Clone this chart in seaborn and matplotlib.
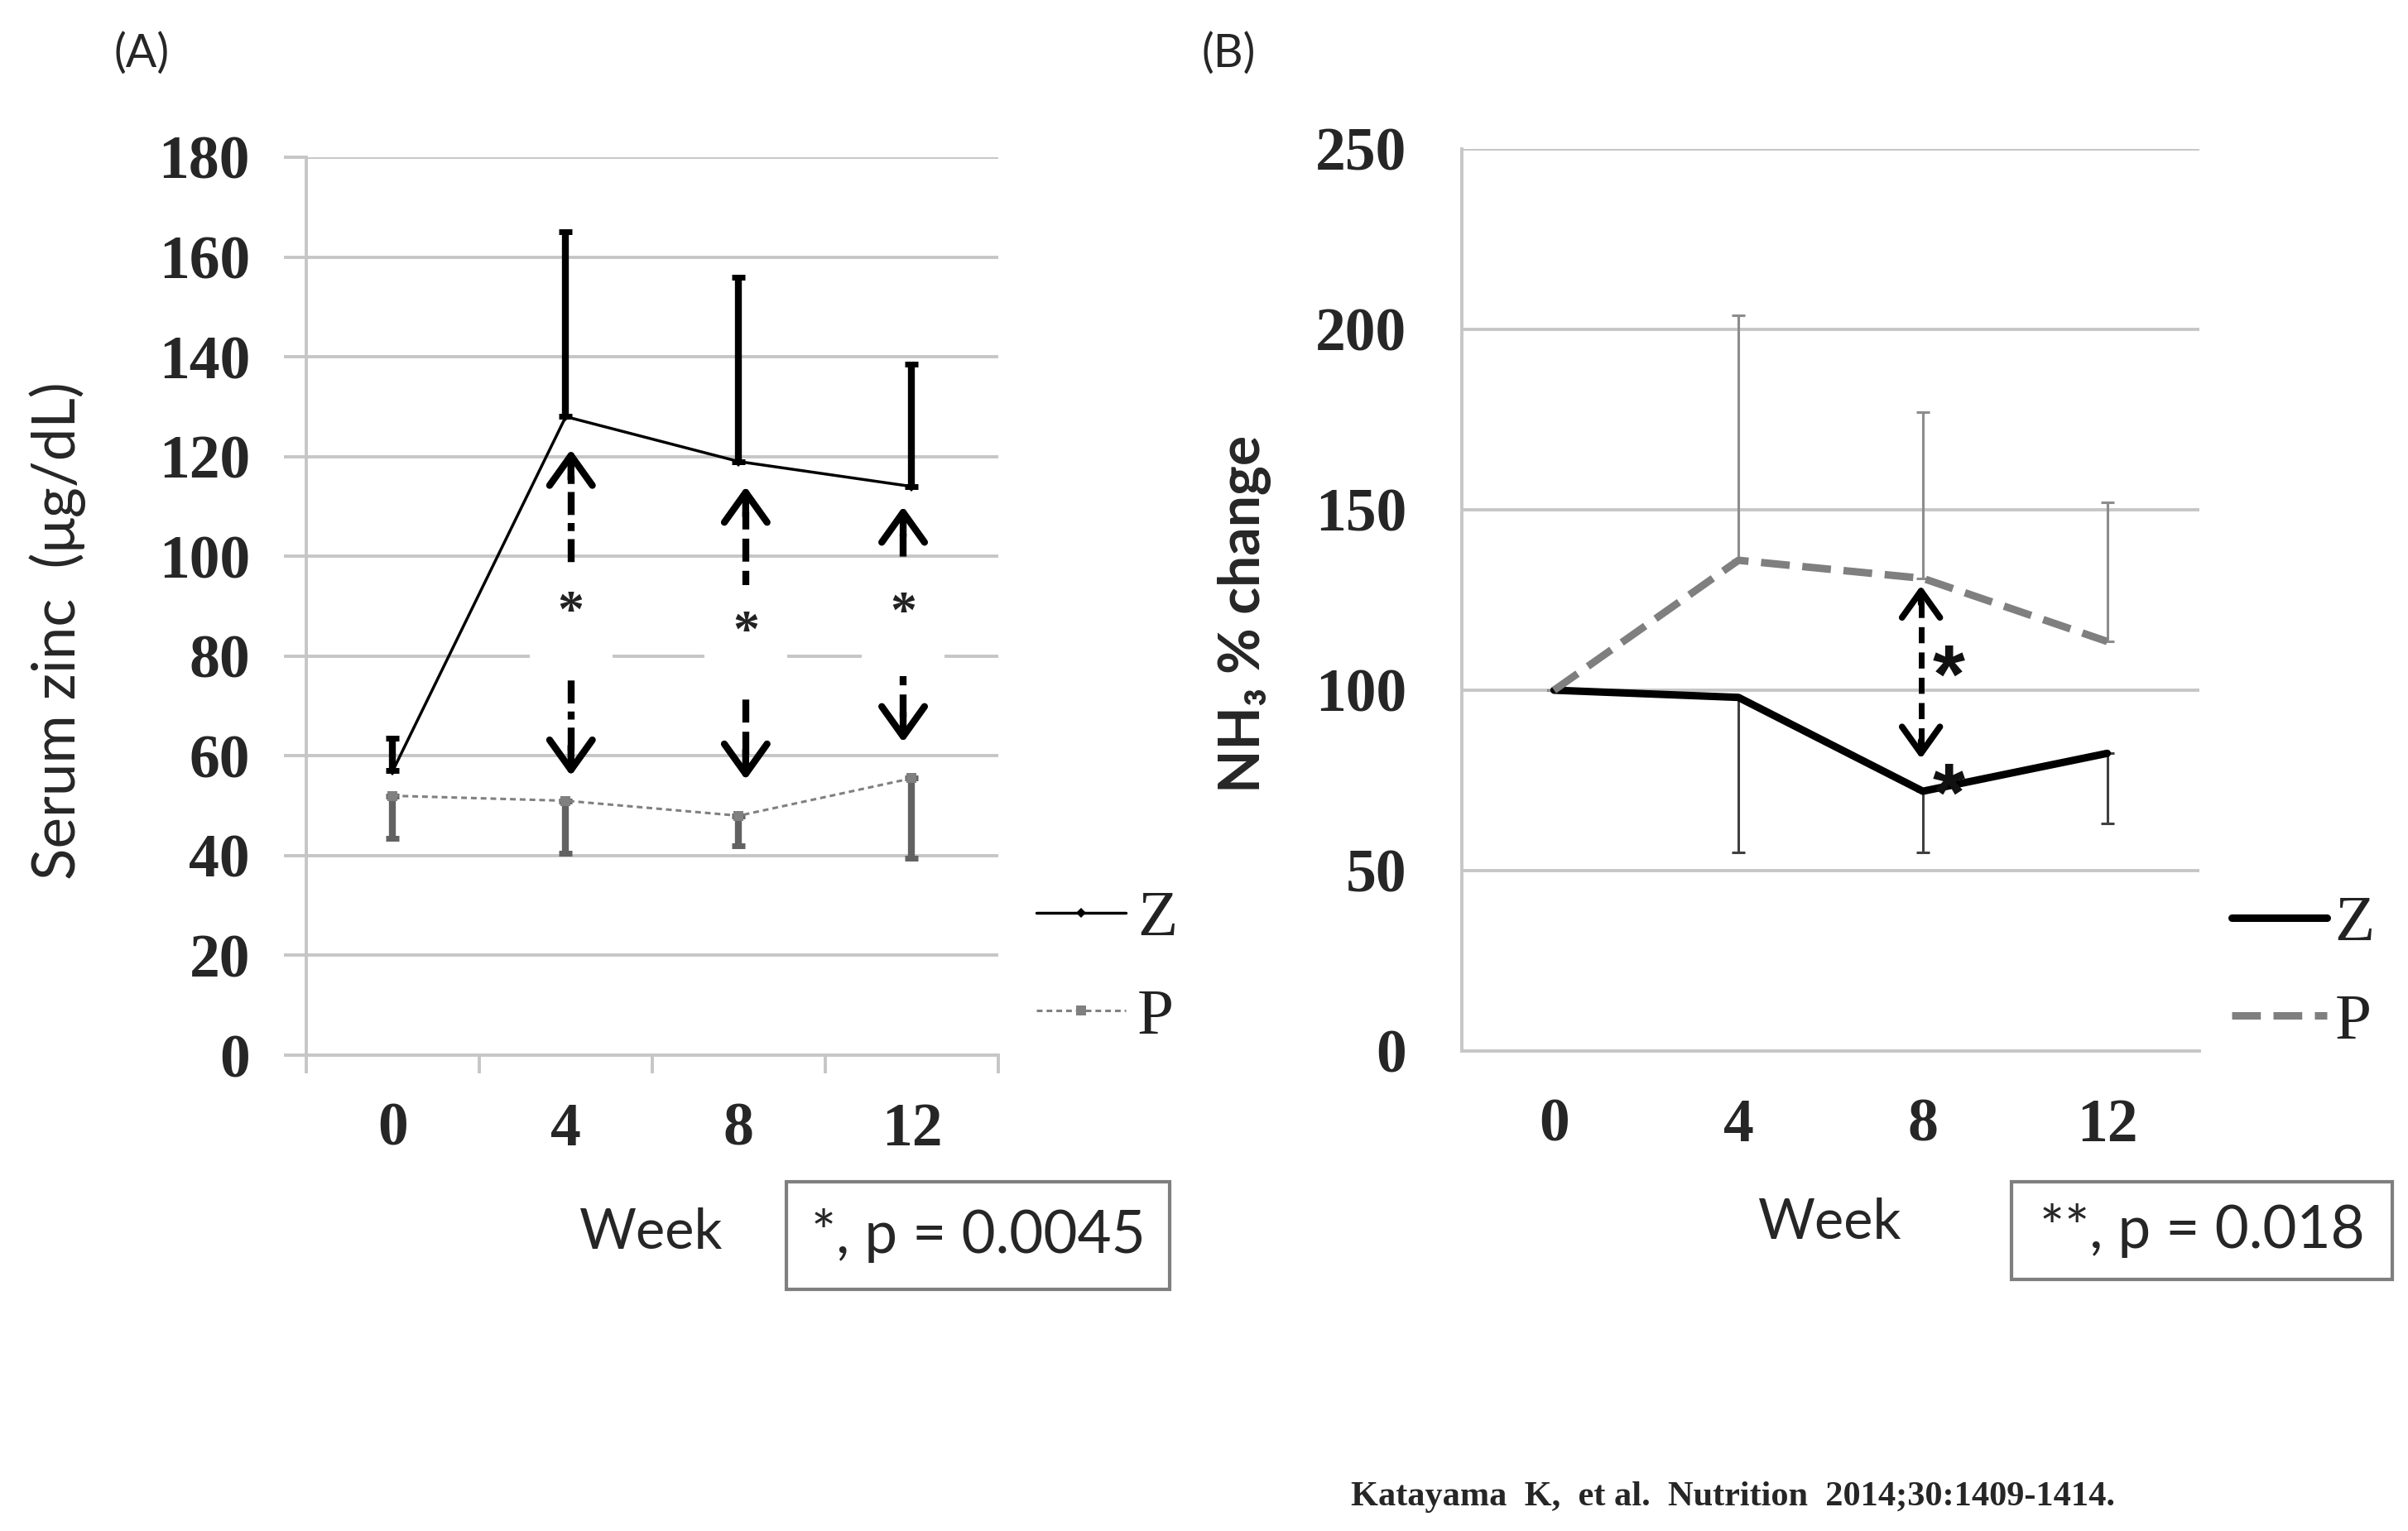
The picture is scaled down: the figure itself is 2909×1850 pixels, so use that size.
import numpy as np
import pandas as pd
import seaborn as sns
import matplotlib.pyplot as plt
from matplotlib.patches import Rectangle
from matplotlib.lines import Line2D

weeks = ['0', '4', '8', '12']

# (A) serum zinc (ug/dL), Z group has upper bars only, P group lower bars only
zinc_z = [57, 128, 119, 114]
zinc_z_err = [6.5, 37, 37, 24.5]
zinc_p = [52, 51, 48, 55.5]
zinc_p_err = [8.5, 10.5, 6, 16]

# (B) NH3 % change, Z lower bars, P upper bars
nh3_z = [100, 98, 72, 82.5]
nh3_z_err = [0, 43, 17, 19.5]
nh3_p = [100, 136, 131, 113.5]
nh3_p_err = [0, 68, 46, 38.5]

# significance arrows in (A)
arrow_x_a = [1.03, 2.04, 2.95]
arrow_top_a = [121.4, 114, 110]
arrow_bot_a = [56, 55.2, 62.7]
arrow_ls_a = [(0, (20, 7, 7, 7)), (0, (20, 8)), (0, (20, 8))]
star_y_a = [88.5, 84.5, 88.2]
gap_lo_a = [76.6, 72.6, 76]
gap_hi_a = [98, 94.2, 98.2]

# significance arrow in (B)
arrow_x_b = 1.99
arrow_top_b = 129
arrow_bot_b = 81
star_x_b = 2.14
star_y_b = [102.5, 69.7]

W, H = 2909, 1850
GRID = '#c6c6c6'
SERIF = 'Liberation Serif'

sns.set_style('white')
plt.rcParams['font.family'] = ['Lato', 'DejaVu Sans']
plt.rcParams['lines.scale_dashes'] = False


def fx(x):
    return x / W


def fy(y):
    return 1 - y / H


def style_axes(ax, ymax, ystep, ypad, minor_ticks):
    ax.set_xlim(-0.5, 3.5)
    ax.set_ylim(0, ymax)
    ax.set_yticks(np.arange(0, ymax + 1, ystep))
    ax.set_xticks(range(len(weeks)))
    ax.set_xticklabels(weeks)
    ax.yaxis.grid(True, color=GRID, lw=2.8)
    ax.xaxis.grid(False)
    ax.set_axisbelow(True)
    for s in ['top', 'right']:
        ax.spines[s].set_visible(False)
    for s in ['left', 'bottom']:
        ax.spines[s].set_color(GRID)
        ax.spines[s].set_linewidth(2.8)
    for lab in ax.get_xticklabels() + ax.get_yticklabels():
        lab.set_fontfamily(SERIF)
        lab.set_fontweight('bold')
        lab.set_fontsize(53)
    ax.tick_params(axis='x', which='major', length=0, pad=41)
    if minor_ticks:
        ax.set_xticks(np.arange(-0.5, 3.6, 1), minor=True)
        ax.tick_params(axis='x', which='minor', length=16, width=2.8,
                       color=GRID, direction='out', bottom=True)
        ax.tick_params(axis='y', length=19.4, width=2.8, color=GRID,
                       direction='out', left=True, pad=ypad)
    else:
        ax.tick_params(axis='y', length=0, pad=ypad)
    ax.set_xlabel('')
    ax.set_ylabel('')


fig = plt.figure(figsize=(W / 100, H / 100), dpi=100)
axA = fig.add_axes([fx(370), fy(1275), 836 / W, 1085 / H])
axB = fig.add_axes([fx(1766), fy(1270), 891 / W, 1090 / H])

pos = np.arange(len(weeks))
zeros = np.zeros(len(weeks))

# ---- panel A
sns.lineplot(x=pos, y=zinc_z, ax=axA, color='black', lw=2.5, marker='D',
             markersize=6, markeredgecolor='black', markeredgewidth=0, zorder=5)
sns.lineplot(x=pos, y=zinc_p, ax=axA, color='#808080', lw=2.2,
             linestyle=(0, (5, 3.5)), marker='s', markersize=8,
             markeredgecolor='#6a6a6a', markeredgewidth=0, zorder=5)
axA.errorbar(pos, zinc_z, yerr=[zeros, zinc_z_err], fmt='none', ecolor='black',
             elinewidth=6, capsize=6, capthick=5, zorder=4)
axA.errorbar(pos, zinc_p, yerr=[zinc_p_err, zeros], fmt='none', ecolor='#626262',
             elinewidth=6, capsize=6, capthick=5, zorder=4)

for x, top, bot, ls, sy, lo, hi in zip(arrow_x_a, arrow_top_a, arrow_bot_a,
                                      arrow_ls_a, star_y_a, gap_lo_a, gap_hi_a):
    axA.plot([x, x], [bot + 5, top - 5], color='black', lw=6, linestyle=ls,
             solid_capstyle='butt', zorder=2)
    for tip, tail in [(top, top - 6), (bot, bot + 6)]:
        axA.annotate('', xy=(x, tip), xytext=(x, tail),
                     arrowprops=dict(arrowstyle='->,head_length=0.42,head_width=0.3',
                                     lw=6, color='black', shrinkA=0, shrinkB=0,
                                     mutation_scale=62), zorder=2)
    axA.add_patch(Rectangle((x - 0.24, lo), 0.48, hi - lo, fc='white',
                            ec='none', zorder=3))
    axA.text(x, sy, '*', ha='center', va='center', fontsize=46,
             fontfamily=SERIF, fontweight='bold', color='#222222', zorder=6)

style_axes(axA, 180, 20, 29.5, True)

# ---- panel B
sns.lineplot(x=pos, y=nh3_z, ax=axB, color='black', lw=6.5, zorder=5)
sns.lineplot(x=pos, y=nh3_p, ax=axB, color='#7f7f7f', lw=6.5,
             linestyle=(0, (25, 11)), zorder=5)
axB.errorbar(pos, nh3_z, yerr=[nh3_z_err, zeros], fmt='none', ecolor='#404040',
             elinewidth=2.2, capsize=5.5, capthick=2.2, zorder=4)
axB.errorbar(pos, nh3_p, yerr=[zeros, nh3_p_err], fmt='none', ecolor='#8c8c8c',
             elinewidth=2.2, capsize=5.5, capthick=2.2, zorder=4)

axB.plot([arrow_x_b, arrow_x_b], [arrow_bot_b + 4, arrow_top_b - 4], color='black',
         lw=5, linestyle=(0, (14, 8)), zorder=6)
for tip, tail in [(arrow_top_b, arrow_top_b - 5), (arrow_bot_b, arrow_bot_b + 5)]:
    axB.annotate('', xy=(arrow_x_b, tip), xytext=(arrow_x_b, tail),
                 arrowprops=dict(arrowstyle='->,head_length=0.42,head_width=0.3',
                                 lw=5.5, color='black', shrinkA=0, shrinkB=0,
                                 mutation_scale=55), zorder=6)
for sy in star_y_b:
    axB.text(star_x_b, sy, '*', ha='center', va='center', fontsize=72,
             fontfamily='Liberation Sans', fontweight='bold', color='#111111',
             zorder=7)

style_axes(axB, 250, 50, 48, False)

# ---- legends
leg_font = dict(family=SERIF, size=57)
hA = [Line2D([], [], color='black', lw=2.5, marker='D', ms=6, mew=0),
      Line2D([], [], color='#808080', lw=2.2, linestyle=(0, (5, 3.5)),
             marker='s', ms=8, mew=0)]
fig.legend(hA, ['Z', 'P'], loc='upper left', bbox_to_anchor=(fx(1252), fy(1075)),
           frameon=False, prop=leg_font, handlelength=1.36, handletextpad=0.18,
           borderpad=0, borderaxespad=0, labelspacing=0.58, labelcolor='#222222')
hB = [Line2D([], [], color='black', lw=6.5),
      Line2D([], [], color='#7f7f7f', lw=6.5, linestyle=(0, (25, 11)))]
fig.legend(hB, ['Z', 'P'], loc='upper left', bbox_to_anchor=(fx(2696), fy(1081)),
           frameon=False, prop=leg_font, handlelength=1.45, handletextpad=0.12,
           borderpad=0, borderaxespad=0, labelspacing=0.58, labelcolor='#222222')

# ---- labels and notes
fig.text(fx(171), fy(65), '(A)', ha='center', va='center', fontsize=40)
fig.text(fx(1484), fy(65), '(B)', ha='center', va='center', fontsize=40)
fig.text(fx(70), fy(762), 'Serum zinc  (\u03bcg/dL)', rotation=90, ha='center',
         va='center', fontsize=51)
fig.text(fx(1503), fy(742), 'NH\u2083 % change', rotation=90, ha='center',
         va='center', fontsize=49, fontweight='bold')
fig.text(fx(787), fy(1490), 'Week', ha='center', va='center', fontsize=48)
fig.text(fx(2211), fy(1478), 'Week', ha='center', va='center', fontsize=48)

for (x0, y0, x1, y1), label, cx, cy in [((950, 1428, 1413, 1558), '*, p = 0.0045', 1182, 1493),
                                         ((2430, 1428, 2890, 1546), '**, p = 0.018', 2660, 1487)]:
    fig.add_artist(Rectangle((fx(x0), fy(y1)), (x1 - x0) / W, (y1 - y0) / H,
                             transform=fig.transFigure, fill=False,
                             ec='#7f7f7f', lw=3))
    fig.text(fx(cx), fy(cy), label, ha='center', va='center', fontsize=51)

fig.text(fx(1632), fy(1809), 'Katayama  K,  et al.  Nutrition  2014;30:1409-1414.',
         ha='left', va='center', fontsize=30.5, fontfamily=SERIF, fontweight='bold')

fig.savefig('out.png', dpi=100, facecolor='white')
